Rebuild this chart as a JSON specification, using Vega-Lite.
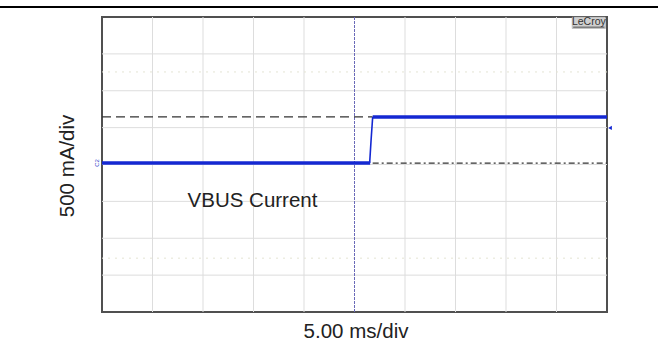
{
  "$schema": "https://vega.github.io/schema/vega-lite/v6.json",
  "width": 505,
  "height": 295,
  "autosize": {"type": "none"},
  "padding": {"left": 102, "top": 17, "right": 51, "bottom": 33},
  "background": "white",
  "config": {"view": {"stroke": "#505050", "strokeWidth": 2}, "font": "Liberation Sans"},
  "datasets": {
    "vgrid": [{"x": 1}, {"x": 2}, {"x": 3}, {"x": 4}, {"x": 6}, {"x": 7}, {"x": 8}, {"x": 9}],
    "hgrid": [{"y": -3}, {"y": -2}, {"y": -1}, {"y": 0}, {"y": 1}, {"y": 2}, {"y": 3}],
    "faint": [{"y": 2.51}, {"y": -2.54}],
    "levels": [
      {"t": 0, "v": 0.04, "seg": "low"},
      {"t": 5.31, "v": 0.04, "seg": "low"},
      {"t": 5.36, "v": 1.29, "seg": "high"},
      {"t": 10, "v": 1.29, "seg": "high"}
    ],
    "edge": [
      {"t": 5.3, "v": 0.04},
      {"t": 5.33, "v": 0.7},
      {"t": 5.36, "v": 1.29}
    ],
    "refs": [
      {"x": 0, "x2": 5.36, "y": 1.29, "kind": "dash"},
      {"x": 5.36, "x2": 10, "y": 0.04, "kind": "dashdot"}
    ],
    "topline": [{"x": -2.03, "x2": 11.02, "y": 4.27}],
    "labels": [
      {"x": 2.98, "y": -1.15, "text": "VBUS Current"},
      {"x": 5.03, "y": -4.705, "text": "5.00 ms/div"}
    ],
    "ylabel": [{"x": -0.554, "y": -0.04, "text": "500 mA/div"}],
    "brand": [{"x": 9.31, "x2": 9.97, "y": 4.0, "y2": 3.69, "tx": 9.64, "ty": 3.77, "ux": 9.33, "ux2": 9.95, "uy": 3.725, "text": "LeCroy"}],
    "markers": [{"x": 10.06, "y": 0.99}],
    "chlabel": [{"x": -0.09, "y": 0.04, "text": "C2"}]
  },
  "layer": [
    {
      "data": {"name": "vgrid"},
      "mark": {"type": "rule", "color": "#dddddd", "strokeWidth": 1},
      "encoding": {"x": {"field": "x", "type": "quantitative", "scale": {"domain": [0, 10], "nice": false}, "axis": null}}
    },
    {
      "data": {"name": "hgrid"},
      "mark": {"type": "rule", "color": "#dddddd", "strokeWidth": 1},
      "encoding": {"y": {"field": "y", "type": "quantitative", "scale": {"domain": [-4, 4], "nice": false}, "axis": null}}
    },
    {
      "data": {"name": "faint"},
      "mark": {"type": "rule", "color": "#e4e4d4", "strokeWidth": 1, "strokeDash": [2, 5]},
      "encoding": {"y": {"field": "y", "type": "quantitative"}}
    },
    {
      "data": {"values": [{"x": 5}]},
      "mark": {"type": "rule", "color": "#6a6ab8", "strokeWidth": 1, "strokeDash": [3, 1]},
      "encoding": {"x": {"field": "x", "type": "quantitative"}}
    },
    {
      "data": {"name": "refs"},
      "transform": [{"filter": "datum.kind == 'dash'"}],
      "mark": {"type": "rule", "color": "#333333", "strokeWidth": 1.2, "strokeDash": [9, 5]},
      "encoding": {
        "x": {"field": "x", "type": "quantitative"},
        "x2": {"field": "x2"},
        "y": {"field": "y", "type": "quantitative"}
      }
    },
    {
      "data": {"name": "refs"},
      "transform": [{"filter": "datum.kind == 'dashdot'"}],
      "mark": {"type": "rule", "color": "#333333", "strokeWidth": 1.2, "strokeDash": [6, 3, 2, 3]},
      "encoding": {
        "x": {"field": "x", "type": "quantitative"},
        "x2": {"field": "x2"},
        "y": {"field": "y", "type": "quantitative"}
      }
    },
    {
      "data": {"name": "edge"},
      "mark": {"type": "line", "color": "#1428d2", "strokeWidth": 1.6},
      "encoding": {
        "x": {"field": "t", "type": "quantitative"},
        "y": {"field": "v", "type": "quantitative"}
      }
    },
    {
      "data": {"name": "levels"},
      "mark": {"type": "line", "color": "#1428d2", "strokeWidth": 3.5, "strokeCap": "butt"},
      "encoding": {
        "x": {"field": "t", "type": "quantitative"},
        "y": {"field": "v", "type": "quantitative"},
        "detail": {"field": "seg"}
      }
    },
    {
      "data": {"name": "markers"},
      "mark": {"type": "point", "shape": "triangle-left", "filled": true, "color": "#1428d2", "size": 18, "opacity": 1},
      "encoding": {
        "x": {"field": "x", "type": "quantitative"},
        "y": {"field": "y", "type": "quantitative"}
      }
    },
    {
      "data": {"name": "chlabel"},
      "mark": {"type": "text", "color": "#3040c8", "fontSize": 6, "angle": 270, "align": "center", "baseline": "middle"},
      "encoding": {
        "x": {"field": "x", "type": "quantitative"},
        "y": {"field": "y", "type": "quantitative"},
        "text": {"field": "text"}
      }
    },
    {
      "data": {"name": "topline"},
      "mark": {"type": "rule", "color": "#000000", "strokeWidth": 2, "clip": false},
      "encoding": {
        "x": {"field": "x", "type": "quantitative"},
        "x2": {"field": "x2"},
        "y": {"field": "y", "type": "quantitative"}
      }
    },
    {
      "data": {"name": "brand"},
      "mark": {"type": "rect", "fill": "#d0d0d0", "stroke": "#999999", "strokeWidth": 0.5},
      "encoding": {
        "x": {"field": "x", "type": "quantitative"},
        "x2": {"field": "x2"},
        "y": {"field": "y", "type": "quantitative"},
        "y2": {"field": "y2"}
      }
    },
    {
      "data": {"name": "brand"},
      "mark": {"type": "text", "color": "#333333", "fontSize": 10.5, "align": "center", "baseline": "alphabetic"},
      "encoding": {
        "x": {"field": "tx", "type": "quantitative"},
        "y": {"field": "ty", "type": "quantitative"},
        "text": {"field": "text"}
      }
    },
    {
      "data": {"name": "brand"},
      "mark": {"type": "rule", "color": "#333333", "strokeWidth": 0.8},
      "encoding": {
        "x": {"field": "ux", "type": "quantitative"},
        "x2": {"field": "ux2"},
        "y": {"field": "uy", "type": "quantitative"}
      }
    },
    {
      "data": {"name": "labels"},
      "mark": {"type": "text", "color": "#222222", "fontSize": 20.5, "align": "center", "baseline": "alphabetic", "clip": false},
      "encoding": {
        "x": {"field": "x", "type": "quantitative"},
        "y": {"field": "y", "type": "quantitative"},
        "text": {"field": "text"}
      }
    },
    {
      "data": {"name": "ylabel"},
      "mark": {"type": "text", "color": "#222222", "fontSize": 20.5, "angle": 270, "align": "center", "baseline": "alphabetic", "clip": false},
      "encoding": {
        "x": {"field": "x", "type": "quantitative"},
        "y": {"field": "y", "type": "quantitative"},
        "text": {"field": "text"}
      }
    }
  ]
}
